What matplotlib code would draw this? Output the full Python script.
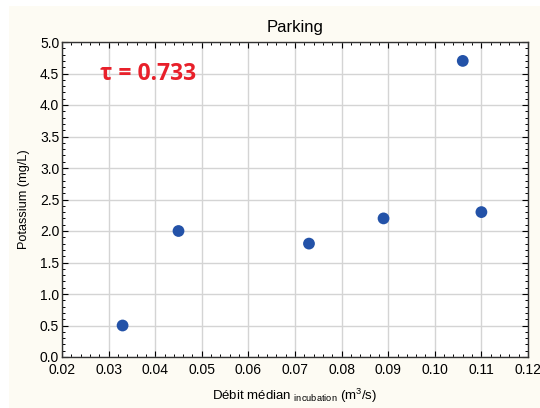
import matplotlib.pyplot as plt
from matplotlib.patches import Rectangle
from matplotlib.ticker import MultipleLocator

# --- data ---
debit = [0.033, 0.045, 0.073, 0.089, 0.106, 0.110]
potassium = [0.5, 2.0, 1.8, 2.2, 4.7, 2.3]
tau_label = "τ = 0.733"

plt.rcParams['font.family'] = ['Liberation Sans', 'DejaVu Sans']
plt.rcParams['mathtext.fontset'] = 'custom'
plt.rcParams['mathtext.rm'] = 'Liberation Sans'

fig = plt.figure(figsize=(5.4, 4.08), dpi=100, facecolor='white')
# cream panel behind the chart
fig.patches.append(Rectangle((9 / 540, 0), 1 - 9 / 540, 1 - 6 / 408,
                             transform=fig.transFigure, facecolor='#fdfbf3',
                             edgecolor='none', zorder=-10))

ax = fig.add_axes([62 / 540, 1 - 357 / 408, 466 / 540, 315 / 408])
ax.set_facecolor('white')

ax.scatter(debit, potassium, s=72, color='#2352a8', zorder=3, edgecolors='none')

ax.set_xlim(0.02, 0.12)
ax.set_ylim(0, 5)
ax.xaxis.set_major_locator(MultipleLocator(0.01))
ax.xaxis.set_minor_locator(MultipleLocator(0.002))
ax.yaxis.set_major_locator(MultipleLocator(0.5))
ax.yaxis.set_minor_locator(MultipleLocator(0.1))
ax.xaxis.set_major_formatter(plt.FormatStrFormatter('%.2f'))
ax.yaxis.set_major_formatter(plt.FormatStrFormatter('%.1f'))

ax.grid(True, which='major', color='#d4d4d4', linewidth=1.0, zorder=0)
ax.set_axisbelow(True)
ax.tick_params(which='both', direction='in', top=True, right=True,
               labelsize=10, color='black')
ax.tick_params(axis='x', pad=4.5)
ax.tick_params(axis='y', pad=2)
ax.tick_params(which='major', length=4, width=0.8)
ax.tick_params(which='minor', length=2.5, width=0.7)
for sp in ax.spines.values():
    sp.set_linewidth(1.0)
    sp.set_color('#333333')

ax.set_title('Parking', fontsize=12, pad=7)
ax.set_xlabel(r'Débit médian $_{\mathrm{incubation}}$ (m$^3$/s)', fontsize=9.5, labelpad=7)
ax.set_ylabel('Potassium (mg/L)', fontsize=9.2, labelpad=7)

ax.text(0.0282, 4.5, tau_label, color='#e8202a', fontsize=16.5, fontweight='bold',
        family=['Open Sans', 'DejaVu Sans'], va='center', ha='left')

fig.savefig('out.png', dpi=100, facecolor=fig.get_facecolor())
